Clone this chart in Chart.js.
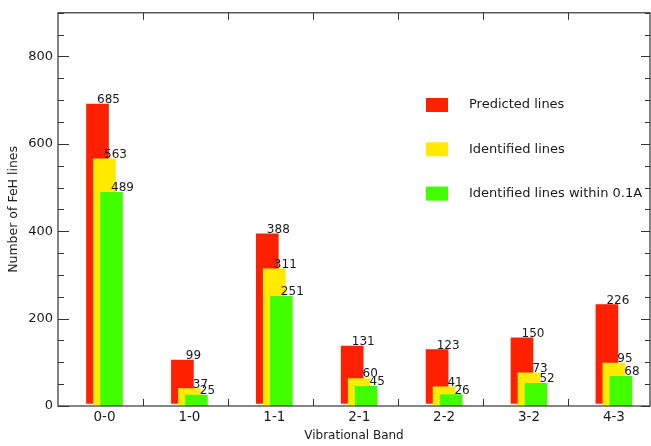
<!DOCTYPE html>
<html>
<head>
<meta charset="utf-8">
<title>FeH lines per vibrational band</title>
<script src="https://cdn.jsdelivr.net/npm/chart.js@4.4.1/dist/chart.umd.min.js"></script>
<style>
  html, body { margin: 0; padding: 0; background: #fff; }
  canvas { display: block; }
</style>
</head>
<body>
<canvas id="fehChart" width="651" height="446"></canvas>
<script>
const categories = ['0-0', '1-0', '1-1', '2-1', '2-2', '3-2', '4-3'];
const predicted = [685, 99, 388, 131, 123, 150, 226];
const identified = [563, 37, 311, 60, 41, 73, 95];
const within01A = [489, 25, 251, 45, 26, 52, 68];
const yTickLabels = [0, 200, 400, 600, 800];
const seriesNames = ['Predicted lines', 'Identified lines', 'Identified lines within 0.1A'];

const FONT = 'DejaVu Sans';
const INK = '#1a1a1a';
const AXIS = '#333';

// bars are stepped sideways (and a little upward) like the old IDL plot
const barShift = 0.0825;
const boundaryShift = 0.455;

function toPoints(values, shift) {
  return values.map((v, i) => ({ x: i + shift, y: v }));
}

const chartData = {
  datasets: [
    {
      label: seriesNames[0],
      data: toPoints(predicted, -barShift),
      backgroundColor: 'rgb(255, 32, 0)',
      yAxisID: 'yBack',
      order: 3
    },
    {
      label: seriesNames[1],
      data: toPoints(identified, 0),
      backgroundColor: 'rgb(255, 234, 0)',
      yAxisID: 'yMid',
      order: 2
    },
    {
      label: seriesNames[2],
      data: toPoints(within01A, barShift),
      backgroundColor: 'rgb(66, 255, 0)',
      yAxisID: 'y',
      order: 1
    }
  ]
};

// box, inward tick marks, value labels and the legend
const decorations = {
  id: 'decorations',
  afterDatasetsDraw(chart) {
    const { ctx, chartArea: a, scales } = chart;
    const x = scales.x, y = scales.y;
    ctx.save();
    ctx.strokeStyle = AXIS;
    ctx.lineWidth = 1.2;
    ctx.strokeRect(a.left, a.top, a.right - a.left, a.bottom - a.top);

    ctx.lineWidth = 1;
    ctx.beginPath();
    for (let v = 0; v <= 900; v += 50) {
      const py = Math.round(y.getPixelForValue(v)) + 0.5;
      const major = v % 200 === 0;
      ctx.moveTo(a.left, py);
      ctx.lineTo(a.left + (major ? 11 : 6), py);
      ctx.moveTo(a.right, py);
      ctx.lineTo(a.right - (major ? 9 : 5), py);
    }
    for (let k = 0; k < categories.length - 1; k++) {
      const px = Math.round(x.getPixelForValue(k + boundaryShift)) + 0.5;
      ctx.moveTo(px, a.bottom);
      ctx.lineTo(px, a.bottom - 7);
      ctx.moveTo(px, a.top);
      ctx.lineTo(px, a.top + 7);
    }
    ctx.stroke();

    ctx.fillStyle = INK;
    ctx.font = '12px "' + FONT + '"';
    ctx.textAlign = 'center';
    ctx.textBaseline = 'alphabetic';
    chart.data.datasets.forEach((ds, di) => {
      const meta = chart.getDatasetMeta(di);
      meta.data.forEach((bar, i) => {
        ctx.fillText(String(ds.data[i].y), bar.x + bar.width / 2, bar.y - 1);
      });
    });
    ctx.restore();
  },
  afterDraw(chart) {
    const { ctx } = chart;
    ctx.save();
    ctx.font = '13px "' + FONT + '"';
    ctx.textAlign = 'left';
    ctx.textBaseline = 'middle';
    chart.data.datasets.forEach((ds, i) => {
      const cy = 105 + i * 44.3;
      ctx.fillStyle = ds.backgroundColor;
      ctx.fillRect(426, cy - 7, 22, 14);
      ctx.fillStyle = INK;
      ctx.fillText(ds.label, 469, cy);
    });
    ctx.restore();
  }
};

const ctx = document.getElementById('fehChart').getContext('2d');
const fehChart = new Chart(ctx, {
  type: 'bar',
  data: chartData,
  plugins: [decorations],
  options: {
    responsive: false,
    animation: false,
    layout: { padding: { top: 10, right: 1, left: 0, bottom: 0 } },
    datasets: {
      bar: { grouped: false, barThickness: 22, borderWidth: 0 }
    },
    plugins: {
      legend: { display: false },
      tooltip: { enabled: false }
    },
    scales: {
      x: {
        type: 'linear',
        offset: false,
        min: -0.548,
        max: 6.425,
        afterFit: s => { s.height = 40; },
        afterBuildTicks: s => { s.ticks = categories.map((c, i) => ({ value: i })); },
        ticks: {
          callback: v => categories[Math.round(v)],
          color: INK,
          font: { family: FONT, size: 13.5 },
          padding: 3,
          maxRotation: 0,
          autoSkip: false
        },
        grid: { display: false, drawTicks: false, offset: false },
        border: { display: false },
        title: {
          display: true,
          text: 'Vibrational Band',
          color: INK,
          font: { family: FONT, size: 12 },
          padding: { top: 0, bottom: 3 }
        }
      },
      y: {
        min: 0,
        max: 900,
        afterFit: s => { s.width = 58; },
        afterBuildTicks: s => { s.ticks = yTickLabels.map(v => ({ value: v })); },
        ticks: {
          color: INK,
          font: { family: FONT, size: 13 },
          padding: 5
        },
        grid: { display: false, drawTicks: false },
        border: { display: false },
        title: {
          display: true,
          text: 'Number of FeH lines',
          color: INK,
          font: { family: FONT, size: 12.5 },
          padding: { top: 6, bottom: 0 }
        }
      },
      yMid: { display: false, min: -3, max: 897 },
      yBack: { display: false, min: -6, max: 894 }
    }
  }
});
</script>
</body>
</html>
